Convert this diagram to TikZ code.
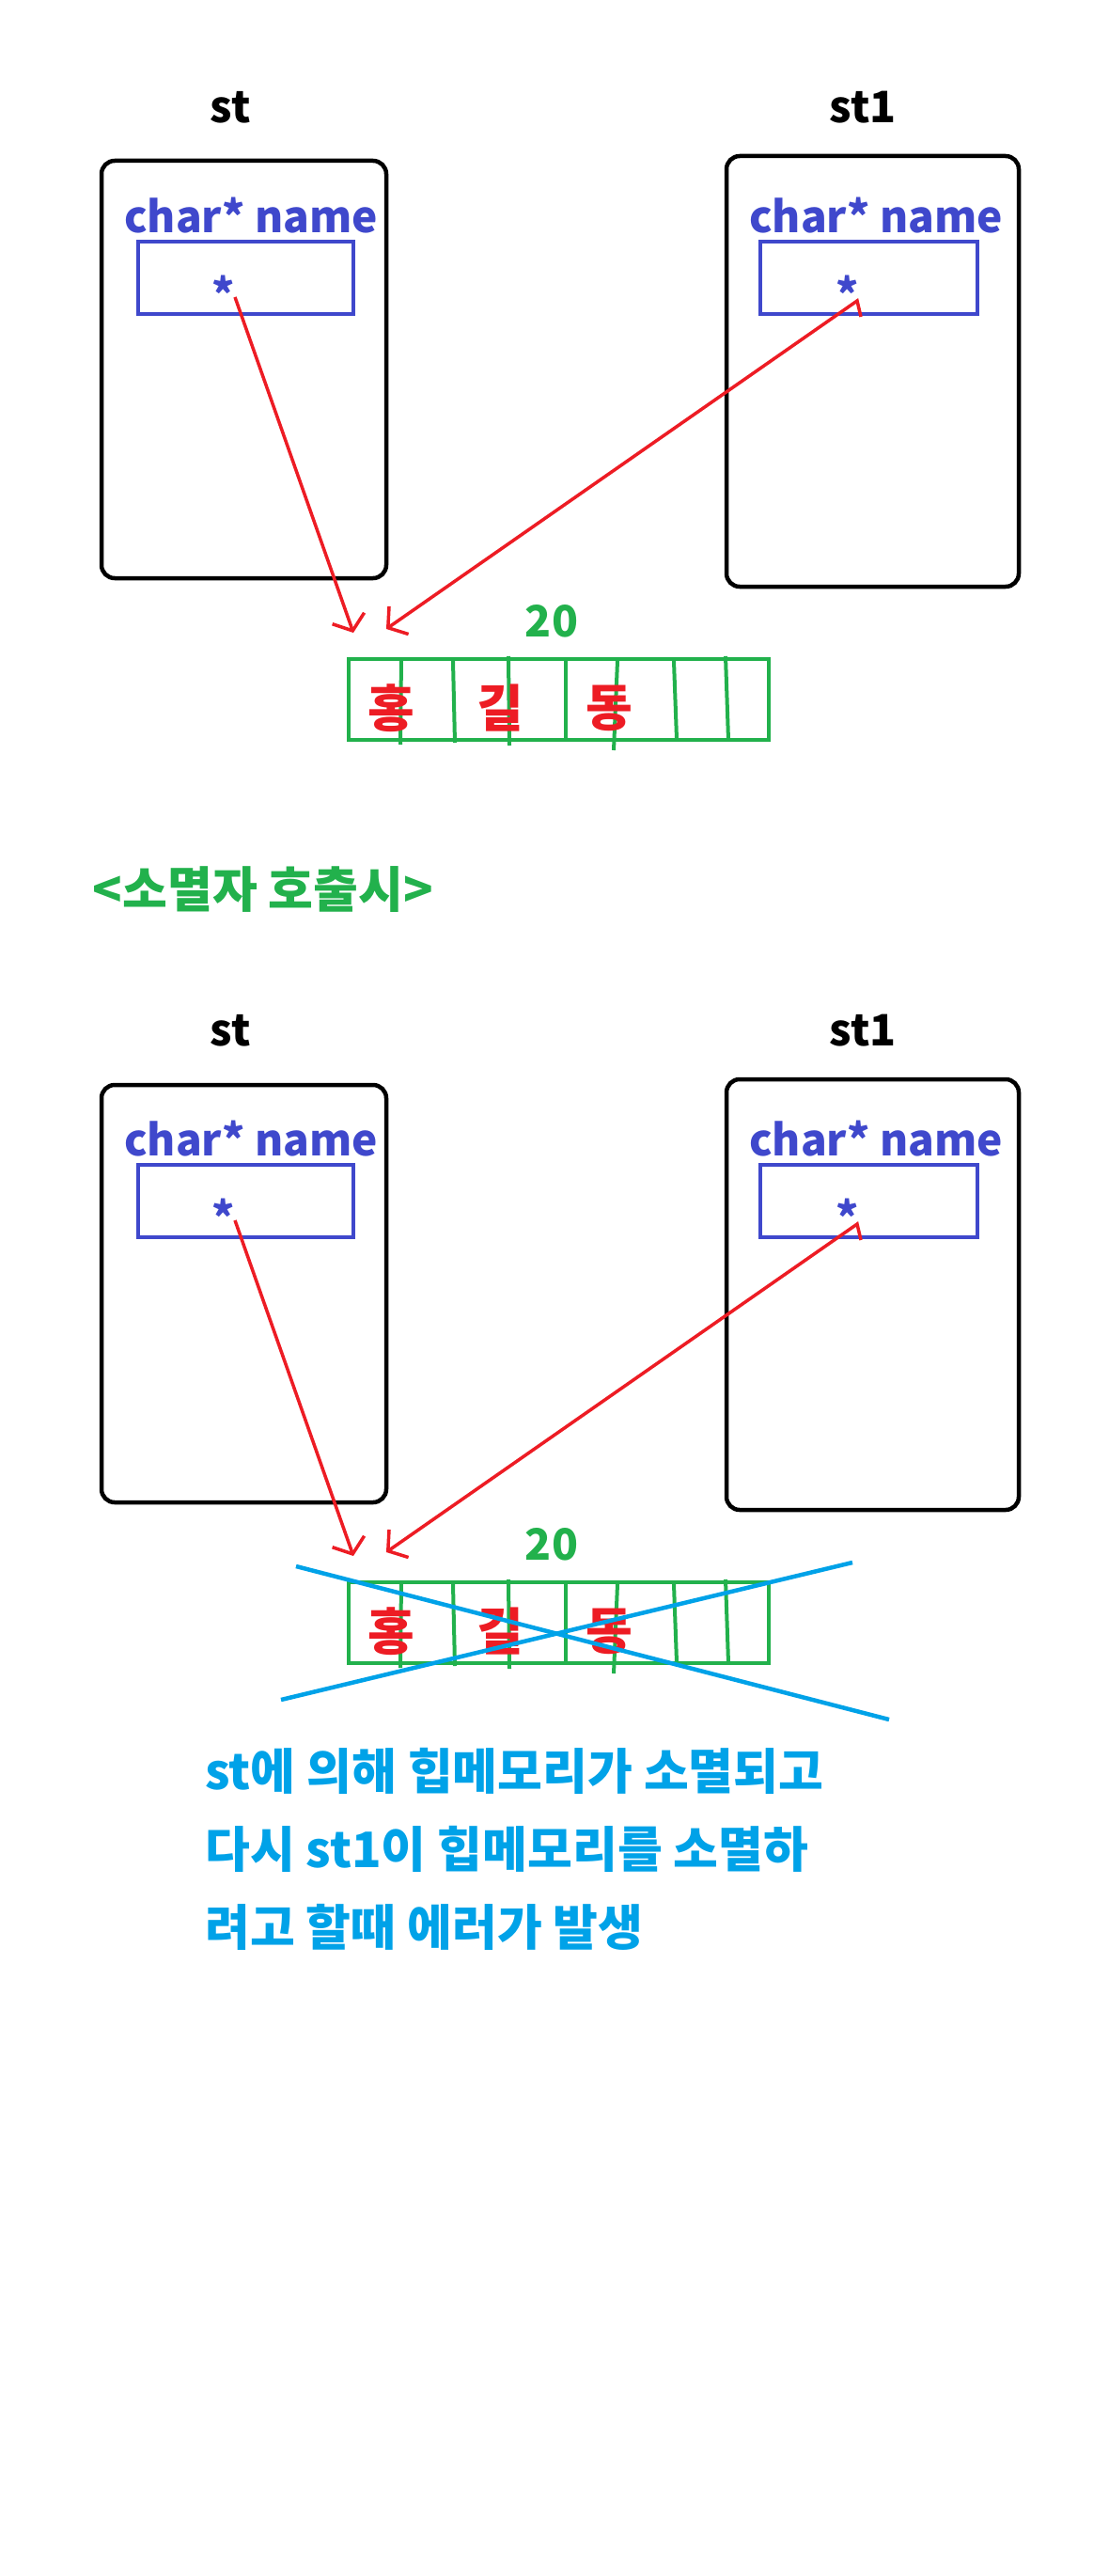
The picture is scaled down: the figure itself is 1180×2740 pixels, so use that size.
\documentclass[tikz,border=0pt]{standalone}
\usepackage{fontspec}
\setmainfont{Noto Sans CJK KR}
\usepackage{xcolor}
\definecolor{paintRed}{HTML}{ED1C24}
\definecolor{paintGreen}{HTML}{22B14C}
\definecolor{paintIndigo}{HTML}{3F48CC}
\definecolor{paintTurq}{HTML}{00A2E8}
\usepackage{tikz}
\usetikzlibrary{
    arrows.meta,
    positioning
}
\tikzset{
    % Base style for all texts
    hand base/.style={
        font=\bfseries\fontsize{46}{50}\selectfont,
        inner sep=0pt,
    },
    % Object name above a box
    objlabel/.style={
        hand base,
        text=black,
    },
    % Object box - rounded black rectangle
    objbox/.style={
        rectangle,
        draw=black,
        line width=4.5pt,
        rounded corners=14pt,
    },
    % Member name
    fieldlabel/.style={
        hand base,
        text=paintIndigo,
    },
    % Pointer field box
    ptrbox/.style={
        rectangle,
        draw=paintIndigo,
        line width=4.5pt,
    },
    % Star in the pointer field
    starmark/.style={
        hand base,
        text=paintIndigo,
    },
    % Heap array
    heapbox/.style={
        rectangle,
        draw=paintGreen,
        line width=4.5pt,
    },
    cellline/.style={
        draw=paintGreen,
        line width=4pt,
    },
    sizelabel/.style={
        hand base,
        text=paintGreen,
    },
    heapchar/.style={
        hand base,
        font=\bfseries\fontsize{54}{58}\selectfont,
        text=paintRed,
    },
    % Pointer arrow
    ptr/.style={
        -{Straight Barb[length=14pt, width=36pt]},
        draw=paintRed,
        line width=3.5pt,
    },
    % Cross-out lines
    crossout/.style={
        draw=paintTurq,
        line width=4.5pt,
    },
    % Notes
    headline/.style={
        hand base,
        font=\bfseries\fontsize{52}{56}\selectfont,
        text=paintGreen,
    },
    note/.style={
        hand base,
        font=\bfseries\fontsize{52}{83}\selectfont,
        text=paintTurq,
        align=left,
    },
}

\begin{document}
\begin{tikzpicture}[x=1pt, y=-1pt]
    \useasboundingbox (0,0) rectangle (1180,2740);

    % before the destructor
    \node (lblSt) [objlabel] at (245,114) {st};
    \node (lblSt1) [objlabel] at (918,114) {st1};
    \node (objSt) [objbox, minimum width=303pt, minimum height=444pt] at (259.5,393) {};
    \node (objSt1) [objbox, minimum width=311pt, minimum height=458pt] at (928.5,395) {};
    \node (fieldSt) [fieldlabel] at (267,229) {char* name};
    \node (fieldSt1) [fieldlabel] at (932,229) {char* name};
    \node (ptrSt) [ptrbox, minimum width=229pt, minimum height=77pt] at (261.5,295.5) {};
    \node (ptrSt1) [ptrbox, minimum width=231pt, minimum height=77pt] at (924.5,295.5) {};
    \node (starSt) [starmark] at (238,312) {*};
    \node (starSt1) [starmark] at (902,312) {*};

    \node (size) [sizelabel] at (587,661) {20};
    \node (heap) [heapbox, minimum width=447pt, minimum height=86pt] at (594.5,744) {};
    \draw [cellline] (427,700) -- (426,792);
    \draw [cellline] (482,703) -- (484,790);
    \draw [cellline] (541,698) -- (542,793);
    \draw [cellline] (602,703) -- (602,786);
    \draw [cellline] (657,703) -- (653,798);
    \draw [cellline] (717,703) -- (720,786);
    \draw [cellline] (772,698) -- (775,787);
    \node (hong) [heapchar] at (416,753) {홍};
    \node (gil) [heapchar] at (532,753) {길};
    \node (dong) [heapchar] at (648,753) {동};

    \coordinate (fromSt) at (250,316);
    \coordinate (toSt) at (376,673);
    \coordinate (fromSt1) at (912,320);
    \coordinate (toSt1) at (411,669);
    \draw [ptr] (fromSt) -- (toSt);
    \draw [ptr] (916,337) -- (fromSt1) -- (toSt1);

    \node (title) [headline] at (280,946) {<소멸자 호출시>};

    % after the destructor
    \begin{scope}[shift={(0,982)}]
    \node (lblStB) [objlabel] at (245,114) {st};
    \node (lblSt1B) [objlabel] at (918,114) {st1};
    \node (objStB) [objbox, minimum width=303pt, minimum height=444pt] at (259.5,394) {};
    \node (objSt1B) [objbox, minimum width=311pt, minimum height=458pt] at (928.5,395) {};
    \node (fieldStB) [fieldlabel] at (267,229) {char* name};
    \node (fieldSt1B) [fieldlabel] at (932,229) {char* name};
    \node (ptrStB) [ptrbox, minimum width=229pt, minimum height=77pt] at (261.5,295.5) {};
    \node (ptrSt1B) [ptrbox, minimum width=231pt, minimum height=77pt] at (924.5,295.5) {};
    \node (starStB) [starmark] at (238,312) {*};
    \node (starSt1B) [starmark] at (902,312) {*};

    \node (sizeB) [sizelabel] at (587,661) {20};
    \node (heapB) [heapbox, minimum width=447pt, minimum height=86pt] at (594.5,744) {};
    \draw [cellline] (427,700) -- (426,792);
    \draw [cellline] (482,703) -- (484,790);
    \draw [cellline] (541,698) -- (542,793);
    \draw [cellline] (602,703) -- (602,786);
    \draw [cellline] (657,703) -- (653,798);
    \draw [cellline] (717,703) -- (720,786);
    \draw [cellline] (772,698) -- (775,787);
    \node (hongB) [heapchar] at (416,753) {홍};
    \node (gilB) [heapchar] at (532,753) {길};
    \node (dongB) [heapchar] at (648,753) {동};

    \coordinate (fromStB) at (250,316);
    \coordinate (toStB) at (376,673);
    \coordinate (fromSt1B) at (912,320);
    \coordinate (toSt1B) at (411,669);
    \draw [ptr] (fromStB) -- (toStB);
    \draw [ptr] (916,337) -- (fromSt1B) -- (toSt1B);

    % heap freed
    \draw [crossout] (315,684) -- (946,847);
    \draw [crossout] (299,826) -- (907,680);
    \end{scope}

    \node (note) [note, anchor=west] at (218,1967) {st에 의해 힙메모리가 소멸되고\\다시 st1이 힙메모리를 소멸하\\려고 할때 에러가 발생};
\end{tikzpicture}
\end{document}
